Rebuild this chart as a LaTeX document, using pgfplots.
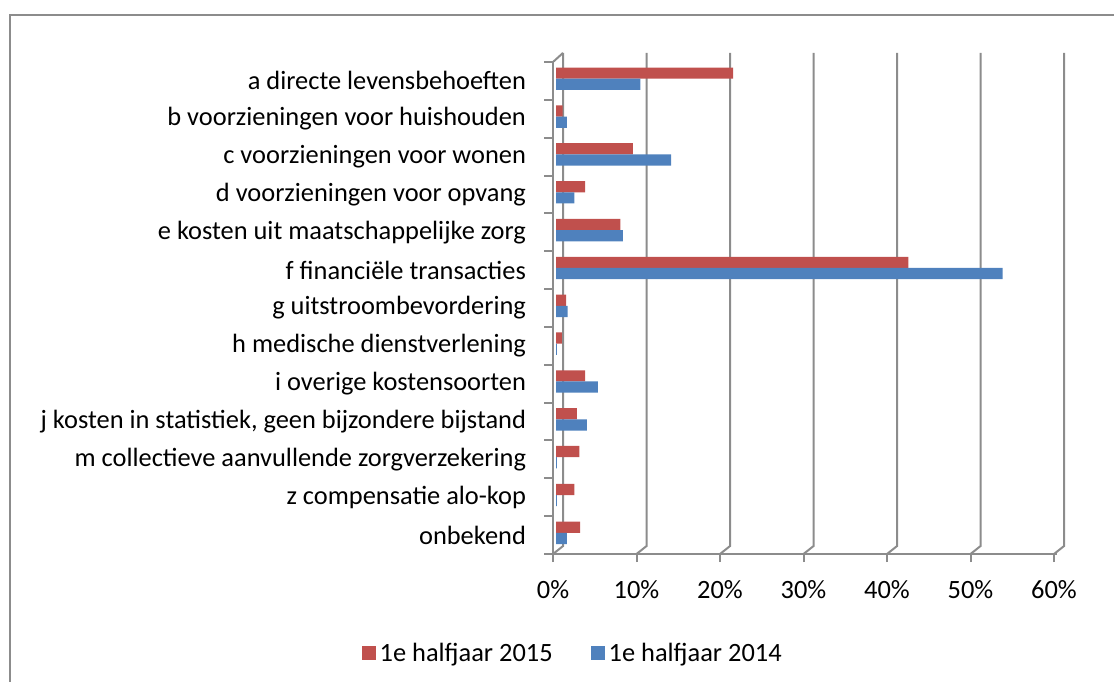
\documentclass[border=0pt]{standalone}
\usepackage{fontspec}
\setmainfont{Carlito}
\usepackage{pgfplots}
\pgfplotsset{compat=1.18}
\definecolor{r15}{HTML}{C0504D}
\definecolor{b14}{HTML}{4F81BD}
\definecolor{gl}{HTML}{8C8C8C}
\begin{document}
\begin{tikzpicture}[x=1pt,y=1pt,font=\fontsize{13.2pt}{15.8pt}\selectfont]
\useasboundingbox (0,0) rectangle (557,340.5);
\draw[gl,line width=1pt] (557,333) -- (5,333) -- (5,-2);
\begin{axis}[
  at={(276.5pt,63.5pt)}, anchor=south west,
  scale only axis, width=252pt, height=246pt,
  xmin=-0.36, xmax=60, ymin=-0.5, ymax=12.5,
  clip=false,
  axis x line*=bottom, axis y line*=left,
  axis line style={draw=gl,line width=1pt},
  xbar, bar width=5.6pt,
  xtick={-0.36,9.64,19.64,29.64,39.64,49.64,59.64},
  xticklabels={0\%,10\%,20\%,30\%,40\%,50\%,60\%},
  ytick={0,...,12},
  yticklabels={onbekend,z compensatie alo-kop,m collectieve aanvullende zorgverzekering,{j kosten in statistiek, geen bijzondere bijstand},i overige kostensoorten,h medische dienstverlening,g uitstroombevordering,f financiële transacties,e kosten uit maatschappelijke zorg,d voorzieningen voor opvang,c voorzieningen voor wonen,b voorzieningen voor huishouden,a directe levensbehoeften},
  minor ytick={-0.5,0.5,...,12.5},
  tick align=outside,
  major x tick style={draw=gl,line width=1pt},
  major tick length=4pt,
  major y tick style={draw=none},
  minor y tick style={draw=gl,line width=1pt},
  minor tick length=4.5pt,
  xticklabel style={yshift=-5.5pt},
  yticklabel style={xshift=-6pt},
  /pgf/number format/assume math mode=true,
  legend columns=2,
  legend style={at={(rel axis cs:0.041,-0.202)},anchor=center,draw=none,fill=none,
    /tikz/every even column/.append style={column sep=17pt}},
]
\pgfplotsinvokeforeach{0,...,6}{
  \draw[gl,line width=1pt] (axis cs:{10*#1+0.84},12.74) -- (axis cs:{10*#1+0.84},-0.29) -- (axis cs:{10*#1-0.36},-0.5);
}
\draw[gl,line width=1pt] (axis cs:-0.36,12.5) -- (axis cs:0.84,12.74);
\addplot[fill=r15,draw=none,bar shift=3.9pt,
  legend image code/.code={\fill[r15] (0pt,-3.5pt) rectangle (7pt,3.5pt);}]
  coordinates {(2.9,0) (2.2,1) (2.8,2) (2.5,3) (3.5,4) (0.7,5) (1.2,6) (42.2,7) (7.7,8) (3.5,9) (9.2,10) (0.8,11) (21.2,12)};
\addlegendentry{1e halfjaar 2015}
\addplot[fill=b14,draw=none,bar shift=-1.7pt,
  legend image code/.code={\fill[b14] (0pt,-3.5pt) rectangle (7pt,3.5pt);}]
  coordinates {(1.3,0) (0.1,1) (0.1,2) (3.7,3) (5.0,4) (0.1,5) (1.4,6) (53.5,7) (8.0,8) (2.2,9) (13.8,10) (1.3,11) (10.1,12)};
\addlegendentry{1e halfjaar 2014}
\end{axis}
\end{tikzpicture}
\end{document}
